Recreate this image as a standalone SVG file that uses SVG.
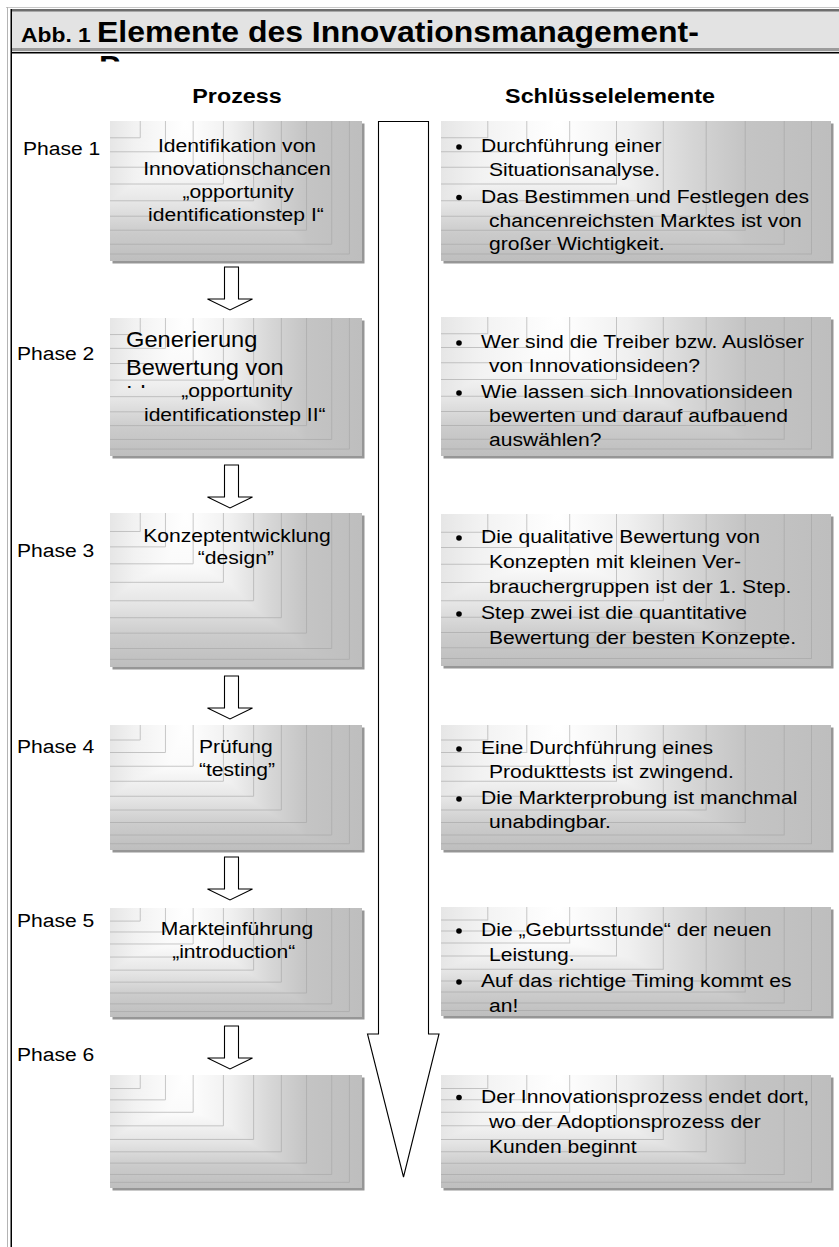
<svg xmlns="http://www.w3.org/2000/svg" xmlns:xlink="http://www.w3.org/1999/xlink" width="839" height="1247" viewBox="0 0 839 1247">
<style>
text{font-family:"Liberation Sans",Arial,Helvetica,sans-serif;fill:#000}
.b{font-weight:bold}
.f19{font-size:19px}
.c{text-anchor:middle}
.sh{fill:#969696}
.dk{mix-blend-mode:darken}
.iso{isolation:isolate}
.ct{fill:none;stroke:#a4a4a4;stroke-width:1;opacity:.6}
.arr{fill:#fff;stroke:#000;stroke-width:1.1;stroke-linejoin:miter}
.bul{fill:#000}
</style>
<defs>
<linearGradient id="gh" x1="0" y1="0" x2="1" y2="0">
<stop offset="0" stop-color="#e6e6e6"/>
<stop offset="0.1" stop-color="#f2f2f2"/>
<stop offset="0.3" stop-color="#ffffff"/>
<stop offset="0.48" stop-color="#f0f0f0"/>
<stop offset="0.64" stop-color="#d6d6d6"/>
<stop offset="0.78" stop-color="#c4c4c4"/>
<stop offset="1" stop-color="#bebebe"/>
</linearGradient>
<linearGradient id="gv" x1="0" y1="0" x2="0" y2="1">
<stop offset="0" stop-color="#ffffff"/>
<stop offset="0.35" stop-color="#fafafa"/>
<stop offset="0.6" stop-color="#e4e4e4"/>
<stop offset="0.8" stop-color="#cbcbcb"/>
<stop offset="1" stop-color="#bebebe"/>
</linearGradient>
<symbol id="ct" viewBox="0 0 100 100" preserveAspectRatio="none">
<path class="ct" vector-effect="non-scaling-stroke" d="M0 12H12V0M0 22H22V0M0 33H33V0M0 45H45V0M0 57H57V0M0 68H68V0M0 78H78V0M0 88H88V0M0 95H95V0"/>
</symbol>
<clipPath id="clipP"><rect x="90" y="55" width="40" height="6.5"/></clipPath>
<clipPath id="clipI"><rect x="120" y="384" width="40" height="4"/></clipPath>
</defs>

<rect width="839" height="1247" fill="#fff"/>

<g id="frame">
<rect x="6" y="7" width="833" height="1" fill="#c8c8c8"/>
<rect x="7" y="7" width="1" height="1240" fill="#b4b4b4"/>
<rect x="11" y="9" width="828" height="43" fill="#e3e3e3"/>
<rect x="11" y="9" width="828" height="2.5" fill="#6e6e6e"/>
<rect x="11" y="48" width="828" height="3" fill="#9c9c9c"/>
<rect x="11" y="52" width="828" height="1.5" fill="#000"/>
<rect x="10.5" y="9" width="1.5" height="1238" fill="#000"/>
</g>

<g id="title">
<text class="b" x="21" y="42" font-size="20.6" transform="translate(-2.31 0) scale(1.11 1)">Abb. 1</text>
<text class="b" x="97" y="42" font-size="28.8" transform="translate(-10.67 0) scale(1.11 1)">Elemente des Innovationsmanagement-</text>
<g clip-path="url(#clipP)"><text class="b" x="99" y="76" font-size="28.8" transform="translate(-10.9 0) scale(1.11 1)">P</text></g>
</g>

<g id="headings">
<text class="b c" x="237" y="103" font-size="21" transform="translate(-26.07 0) scale(1.11 1)">Prozess</text>
<text class="b c" x="610" y="103" font-size="21" transform="translate(-67.1 0) scale(1.11 1)">Schlüsselelemente</text>
</g>

<g id="phases" class="f19" transform="translate(-2.2 0) scale(1.11 1)">
<text x="22.7" y="155">Phase 1</text>
<text x="17.3" y="360">Phase 2</text>
<text x="17.3" y="557">Phase 3</text>
<text x="17.3" y="753">Phase 4</text>
<text x="17.3" y="927">Phase 5</text>
<text x="17.3" y="1061">Phase 6</text>
</g>

<!-- Left process boxes -->
<g id="p1">
<rect class="sh" x="112.5" y="123.5" width="252" height="140"/>
<g class="iso"><rect x="110" y="121" width="252" height="140" fill="url(#gh)"/><rect class="dk" x="110" y="121" width="252" height="140" fill="url(#gv)"/></g>
<use href="#ct" x="110" y="121" width="252" height="140"/>
<g class="f19 c" transform="translate(-26.07 0) scale(1.11 1)">
<text class="c" x="237" y="152">Identifikation von</text>
<text class="c" x="237" y="175">Innovationschancen</text>
<text class="c" x="238" y="198">„opportunity</text>
<text class="c" x="236" y="221">identificationstep I“</text>
</g>
</g>

<g id="p2">
<rect class="sh" x="112.5" y="320.5" width="252" height="138"/>
<g class="iso"><rect x="110" y="318" width="252" height="138" fill="url(#gh)"/><rect class="dk" x="110" y="318" width="252" height="138" fill="url(#gv)"/></g>
<use href="#ct" x="110" y="318" width="252" height="138"/>
<g transform="translate(-13.86 0) scale(1.11 1)" font-size="21.3">
<text x="126" y="347">Generierung</text>
<text x="126" y="375">Bewertung von</text>
<g clip-path="url(#clipI)"><text x="126" y="401">Ideen</text></g>
</g>
<g class="f19" transform="translate(-26.07 0) scale(1.11 1)">
<text class="c" x="237" y="397">„opportunity</text>
<text class="c" x="235" y="421">identificationstep II“</text>
</g>
</g>

<g id="p3">
<rect class="sh" x="112.5" y="515.5" width="252" height="154"/>
<g class="iso"><rect x="110" y="513" width="252" height="154" fill="url(#gh)"/><rect class="dk" x="110" y="513" width="252" height="154" fill="url(#gv)"/></g>
<use href="#ct" x="110" y="513" width="252" height="154"/>
<g class="f19" transform="translate(-26.07 0) scale(1.11 1)">
<text class="c" x="237" y="542">Konzeptentwicklung</text>
<text class="c" x="236" y="564">“design”</text>
</g>
</g>

<g id="p4">
<rect class="sh" x="112.5" y="727.5" width="252" height="125"/>
<g class="iso"><rect x="110" y="725" width="252" height="125" fill="url(#gh)"/><rect class="dk" x="110" y="725" width="252" height="125" fill="url(#gv)"/></g>
<use href="#ct" x="110" y="725" width="252" height="125"/>
<g class="f19" transform="translate(-26.07 0) scale(1.11 1)">
<text class="c" x="236" y="753">Prüfung</text>
<text class="c" x="237" y="776">“testing”</text>
</g>
</g>

<g id="p5">
<rect class="sh" x="112.5" y="910.5" width="252" height="109"/>
<g class="iso"><rect x="110" y="908" width="252" height="109" fill="url(#gh)"/><rect class="dk" x="110" y="908" width="252" height="109" fill="url(#gv)"/></g>
<use href="#ct" x="110" y="908" width="252" height="109"/>
<g class="f19" transform="translate(-26.07 0) scale(1.11 1)">
<text class="c" x="237" y="935">Markteinführung</text>
<text class="c" x="234" y="958">„introduction“</text>
</g>
</g>

<g id="p6">
<rect class="sh" x="112.5" y="1077.5" width="252" height="113"/>
<g class="iso"><rect x="110" y="1075" width="252" height="113" fill="url(#gh)"/><rect class="dk" x="110" y="1075" width="252" height="113" fill="url(#gv)"/></g>
<use href="#ct" x="110" y="1075" width="252" height="113"/>
</g>

<!-- Right key-element boxes -->
<g id="k1">
<rect class="sh" x="443.5" y="123.5" width="390" height="140"/>
<g class="iso"><rect x="441" y="121" width="390" height="140" fill="url(#gh)"/><rect class="dk" x="441" y="121" width="390" height="140" fill="url(#gv)"/></g>
<use href="#ct" x="441" y="121" width="390" height="140"/>
<circle class="bul" cx="459" cy="147" r="2.8"/>
<circle class="bul" cx="459" cy="197.5" r="2.8"/>
<g class="f19" transform="translate(-52.91 0) scale(1.11 1)">
<text x="481" y="152">Durchführung einer</text>
<text x="488.2" y="176">Situationsanalyse.</text>
<text x="481" y="203">Das Bestimmen und Festlegen des</text>
<text x="488.2" y="227">chancenreichsten Marktes ist von</text>
<text x="488.2" y="250">großer Wichtigkeit.</text>
</g>
</g>

<g id="k2">
<rect class="sh" x="443.5" y="319.5" width="390" height="139"/>
<g class="iso"><rect x="441" y="317" width="390" height="139" fill="url(#gh)"/><rect class="dk" x="441" y="317" width="390" height="139" fill="url(#gv)"/></g>
<use href="#ct" x="441" y="317" width="390" height="139"/>
<circle class="bul" cx="459" cy="343" r="2.8"/>
<circle class="bul" cx="459" cy="393" r="2.8"/>
<g class="f19" transform="translate(-52.91 0) scale(1.11 1)">
<text x="481" y="348">Wer sind die Treiber bzw. Auslöser</text>
<text x="488.2" y="372">von Innovationsideen?</text>
<text x="481" y="398">Wie lassen sich Innovationsideen</text>
<text x="488.2" y="422">bewerten und darauf aufbauend</text>
<text x="488.2" y="446">auswählen?</text>
</g>
</g>

<g id="k3">
<rect class="sh" x="443.5" y="516.5" width="390" height="152"/>
<g class="iso"><rect x="441" y="514" width="390" height="152" fill="url(#gh)"/><rect class="dk" x="441" y="514" width="390" height="152" fill="url(#gv)"/></g>
<use href="#ct" x="441" y="514" width="390" height="152"/>
<circle class="bul" cx="459" cy="538" r="2.8"/>
<circle class="bul" cx="459" cy="614" r="2.8"/>
<g class="f19" transform="translate(-52.91 0) scale(1.11 1)">
<text x="481" y="543">Die qualitative Bewertung von</text>
<text x="488.2" y="568">Konzepten mit kleinen Ver-</text>
<text x="488.2" y="593">brauchergruppen ist der 1. Step.</text>
<text x="481" y="619">Step zwei ist die quantitative</text>
<text x="488.2" y="644">Bewertung der besten Konzepte.</text>
</g>
</g>

<g id="k4">
<rect class="sh" x="443.5" y="727.5" width="390" height="125"/>
<g class="iso"><rect x="441" y="725" width="390" height="125" fill="url(#gh)"/><rect class="dk" x="441" y="725" width="390" height="125" fill="url(#gv)"/></g>
<use href="#ct" x="441" y="725" width="390" height="125"/>
<circle class="bul" cx="459" cy="749" r="2.8"/>
<circle class="bul" cx="459" cy="799" r="2.8"/>
<g class="f19" transform="translate(-52.91 0) scale(1.11 1)">
<text x="481" y="754">Eine Durchführung eines</text>
<text x="488.2" y="778">Produkttests ist zwingend.</text>
<text x="481" y="804">Die Markterprobung ist manchmal</text>
<text x="488.2" y="828">unabdingbar.</text>
</g>
</g>

<g id="k5">
<rect class="sh" x="443.5" y="909.5" width="390" height="109"/>
<g class="iso"><rect x="441" y="907" width="390" height="109" fill="url(#gh)"/><rect class="dk" x="441" y="907" width="390" height="109" fill="url(#gv)"/></g>
<use href="#ct" x="441" y="907" width="390" height="109"/>
<circle class="bul" cx="459" cy="931" r="2.8"/>
<circle class="bul" cx="459" cy="982" r="2.8"/>
<g class="f19" transform="translate(-52.91 0) scale(1.11 1)">
<text x="481" y="936">Die „Geburtsstunde“ der neuen</text>
<text x="488.2" y="961">Leistung.</text>
<text x="481" y="987">Auf das richtige Timing kommt es</text>
<text x="488.2" y="1012">an!</text>
</g>
</g>

<g id="k6">
<rect class="sh" x="443.5" y="1077.5" width="390" height="113"/>
<g class="iso"><rect x="441" y="1075" width="390" height="113" fill="url(#gh)"/><rect class="dk" x="441" y="1075" width="390" height="113" fill="url(#gv)"/></g>
<use href="#ct" x="441" y="1075" width="390" height="113"/>
<circle class="bul" cx="459" cy="1097.5" r="2.8"/>
<g class="f19" transform="translate(-52.91 0) scale(1.11 1)">
<text x="481" y="1103">Der Innovationsprozess endet dort,</text>
<text x="488.2" y="1128">wo der Adoptionsprozess der</text>
<text x="488.2" y="1153">Kunden beginnt</text>
</g>
</g>

<g id="connectors">
<path class="arr" d="M224.5 267V299H207.5L230 310L252.5 299H238.5V267Z"/>
<path class="arr" d="M224.5 465V497H207.5L230 508L252.5 497H238.5V465Z"/>
<path class="arr" d="M224.5 676V708H207.5L230 719L252.5 708H238.5V676Z"/>
<path class="arr" d="M224.5 857V889H207.5L230 900L252.5 889H238.5V857Z"/>
<path class="arr" d="M224.5 1026V1058H207.5L230 1069L252.5 1058H238.5V1026Z"/>
<path class="arr" d="M378.5 121.5V1034H367.5L403.5 1177L439 1034H428.5V121.5Z"/>
</g>
</svg>
